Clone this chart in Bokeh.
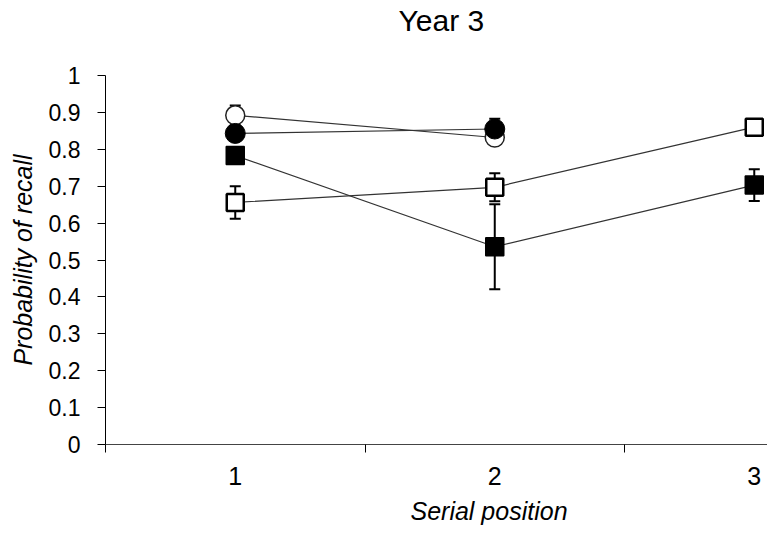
from bokeh.plotting import figure
from bokeh.models import Range1d, FixedTicker, Whisker, TeeHead, ColumnDataSource, Title
from bokeh.embed import file_html
from bokeh.resources import INLINE

positions = [1, 2, 3]
y_ticks = [0, 0.1, 0.2, 0.3, 0.4, 0.5, 0.6, 0.7, 0.8, 0.9, 1.0]

# series (serial position -> probability of recall, standard error)
open_circle_x = [1, 2]
open_circle_y = [0.892, 0.832]
open_circle_err = [0.027, 0.02]

filled_circle_x = [1, 2]
filled_circle_y = [0.843, 0.855]
filled_circle_err = [0.02, 0.028]

filled_square_x = [1, 2, 3]
filled_square_y = [0.783, 0.536, 0.703]
filled_square_err = [0.02, 0.115, 0.043]

open_square_x = [1, 2, 3]
open_square_y = [0.656, 0.697, 0.860]
open_square_err = [0.044, 0.038, 0.02]

FONT = "Liberation Sans"

p = figure(width=767, height=533, output_backend="svg", toolbar_location=None,
           title=None,
           x_range=Range1d(0.5, 3.051), y_range=Range1d(0, 1),
           min_border_left=105, min_border_right=0, min_border_top=75, min_border_bottom=89)
p.outline_line_color = None
p.xgrid.visible = False
p.ygrid.visible = False
p.background_fill_color = "white"

# spacer panel between title and frame
p.add_layout(Title(text=" ", text_font_size="1px", standoff=34), "above")
p.add_layout(Title(text="Year 3", align="left", offset=293, vertical_align="top",
                   standoff=0, text_font=FONT, text_font_size="30px",
                   text_font_style="normal", text_color="#000000"), "above")

# y axis
p.yaxis.ticker = FixedTicker(ticks=y_ticks)
p.yaxis.major_label_overrides = {0: "0", 1: "1", 1.0: "1"}
p.yaxis.major_label_text_font = FONT
p.yaxis.major_label_text_font_size = "23px"
p.yaxis.major_label_text_color = "#000000"
p.yaxis.major_tick_in = 0
p.yaxis.major_tick_out = 8
p.yaxis.minor_tick_line_color = None
p.yaxis.axis_line_color = "#000000"
p.yaxis.major_tick_line_color = "#000000"
p.yaxis.major_label_standoff = 17
p.yaxis.axis_label = "Probability of recall"
p.yaxis.axis_label_text_font = FONT
p.yaxis.axis_label_text_font_style = "italic"
p.yaxis.axis_label_text_font_size = "25px"
p.yaxis.axis_label_text_color = "#000000"
p.yaxis.axis_label_standoff = 9

# x axis
p.xaxis.ticker = FixedTicker(ticks=positions, minor_ticks=[0.5, 1.5, 2.5])
p.xaxis.major_tick_in = 0
p.xaxis.major_tick_out = 0
p.xaxis.minor_tick_in = 0
p.xaxis.minor_tick_out = 8
p.xaxis.minor_tick_line_color = "#000000"
p.xaxis.axis_line_color = "#444444"
p.xaxis.major_label_text_font = FONT
p.xaxis.major_label_text_font_size = "25px"
p.xaxis.major_label_text_color = "#000000"
p.xaxis.major_label_standoff = 14

p.add_layout(Title(text="Serial position", align="left", offset=305, standoff=14,
                   text_font=FONT, text_font_size="25px", text_font_style="italic",
                   text_color="#000000"), "below")

def errbars(xs, ys, es):
    src = ColumnDataSource(dict(x=xs, lo=[y - e for y, e in zip(ys, es)],
                                hi=[y + e for y, e in zip(ys, es)]))
    w = Whisker(source=src, base="x", lower="lo", upper="hi", line_width=2,
                line_color="#000000",
                upper_head=TeeHead(size=11, line_width=2, line_color="#000000"),
                lower_head=TeeHead(size=11, line_width=2, line_color="#000000"))
    p.add_layout(w)

for xs, ys, es in [(open_circle_x, open_circle_y, open_circle_err),
                   (filled_circle_x, filled_circle_y, filled_circle_err),
                   (filled_square_x, filled_square_y, filled_square_err),
                   (open_square_x, open_square_y, open_square_err)]:
    errbars(xs, ys, es)

LC = "#333333"
p.line(open_circle_x, open_circle_y, line_color=LC, line_width=1.2)
p.line(filled_circle_x, filled_circle_y, line_color=LC, line_width=1.2)
p.line(filled_square_x, filled_square_y, line_color=LC, line_width=1.2)
p.line(open_square_x, open_square_y, line_color=LC, line_width=1.2)

p.scatter(open_circle_x, open_circle_y, marker="circle", size=19,
          fill_color="white", line_color="#222222", line_width=1.5)
p.scatter(filled_circle_x, filled_circle_y, marker="circle", size=20,
          fill_color="black", line_color="black", line_width=1)
p.scatter(filled_square_x, filled_square_y, marker="square", size=18,
          fill_color="black", line_color="black", line_width=1.5)
p.scatter(open_square_x, open_square_y, marker="square", size=17,
          fill_color="white", line_color="black", line_width=2.5)

open("out.html", "w").write(file_html(p, INLINE))
